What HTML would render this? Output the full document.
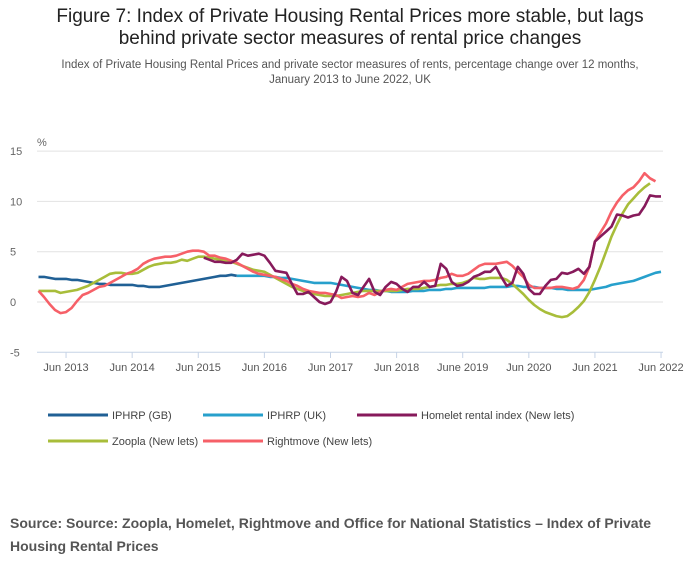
<!DOCTYPE html>
<html><head><meta charset="utf-8"><style>
body{margin:0;width:700px;height:574px;background:#fff;font-family:"Liberation Sans",sans-serif;overflow:hidden;position:relative}
.t{position:absolute;left:0;width:700px;text-align:center;color:#222}
</style></head><body>
<div class="t" style="top:6px;font-size:19px;line-height:22px">Figure 7: Index of Private Housing Rental Prices more stable, but lags<br>behind private sector measures of rental price changes</div>
<div class="t" style="top:58px;font-size:11.5px;line-height:15px;color:#555">Index of Private Housing Rental Prices and private sector measures of rents, percentage change over 12 months,<br>January 2013 to June 2022, UK</div>
<svg id="c" width="700" height="480" style="position:absolute;left:0;top:0"></svg>
<div style="position:absolute;left:10px;top:512px;font-size:14px;line-height:23px;font-weight:bold;color:#555">Source: Source: Zoopla, Homelet, Rightmove and Office for National Statistics – Index of Private<br>Housing Rental Prices</div>
<script>
const yTicks=[15,10,5,0,-5];
const xLabels=["Jun 2013","Jun 2014","Jun 2015","Jun 2016","Jun 2017","Jun 2018","June 2019","Jun 2020","Jun 2021","Jun 2022"];
const xLabelMonths=[5,17,29,41,53,65,77,89,101,113];
const gbStart=0;
const gbValues=[2.5,2.5,2.4,2.3,2.3,2.3,2.2,2.2,2.1,2.0,1.9,1.8,1.8,1.7,1.7,1.7,1.7,1.7,1.6,1.6,1.5,1.5,1.5,1.6,1.7,1.8,1.9,2.0,2.1,2.2,2.3,2.4,2.5,2.6,2.6,2.7,2.6];
const ukStart=36;
const ukValues=[2.6,2.6,2.6,2.6,2.6,2.6,2.5,2.5,2.4,2.4,2.3,2.2,2.1,2.0,1.9,1.9,1.9,1.9,1.8,1.7,1.6,1.5,1.4,1.3,1.2,1.2,1.1,1.1,1.0,1.0,1.0,1.0,1.1,1.1,1.1,1.2,1.2,1.2,1.3,1.3,1.4,1.4,1.4,1.4,1.4,1.4,1.5,1.5,1.5,1.5,1.6,1.6,1.5,1.5,1.5,1.4,1.4,1.4,1.3,1.3,1.2,1.2,1.2,1.2,1.2,1.3,1.4,1.5,1.7,1.8,1.9,2.0,2.1,2.3,2.5,2.7,2.9,3.0];
const homeletStart=30;
const homeletValues=[4.4,4.2,4.0,4.0,3.9,3.9,4.2,4.8,4.6,4.7,4.8,4.6,3.9,3.1,3.0,2.9,1.8,0.8,0.8,1.0,0.5,0.0,-0.2,0.0,1.0,2.5,2.1,0.9,0.7,1.5,2.3,1.0,0.7,1.5,2.0,1.8,1.3,1.0,1.5,1.5,2.0,1.5,1.6,3.8,3.3,2.0,1.6,1.7,2.0,2.5,2.7,3.0,3.0,3.5,2.5,1.6,1.9,3.5,2.8,1.3,0.8,0.8,1.6,2.2,2.3,2.9,2.8,3.0,3.3,2.8,3.5,6.0,6.5,7.0,7.5,8.7,8.6,8.4,8.6,8.7,9.5,10.6,10.5,10.5];
const zooplaStart=0;
const zooplaValues=[1.1,1.1,1.1,1.1,0.9,1.0,1.1,1.2,1.4,1.6,1.9,2.2,2.5,2.8,2.9,2.9,2.8,2.8,2.9,3.2,3.5,3.7,3.8,3.9,3.9,4.0,4.2,4.1,4.3,4.5,4.5,4.4,4.3,4.2,4.1,4.0,3.8,3.6,3.4,3.2,3.1,3.0,2.7,2.4,2.1,1.8,1.5,1.3,1.1,0.9,0.8,0.7,0.6,0.6,0.6,0.7,0.8,0.9,1.0,1.1,1.1,1.1,1.1,1.1,1.1,1.1,1.2,1.3,1.3,1.3,1.4,1.5,1.6,1.7,1.7,1.8,1.8,1.9,2.1,2.4,2.3,2.3,2.4,2.4,2.4,2.2,1.8,1.3,0.8,0.2,-0.3,-0.7,-1.0,-1.2,-1.4,-1.5,-1.4,-1.0,-0.5,0.1,1.0,2.2,3.5,5.0,6.5,7.7,8.8,9.7,10.3,10.9,11.4,11.8];
const rightmoveStart=0;
const rightmoveValues=[1.1,0.5,-0.2,-0.8,-1.1,-1.0,-0.6,0.1,0.7,0.9,1.2,1.5,1.6,1.9,2.2,2.5,2.8,3.0,3.3,3.8,4.1,4.3,4.4,4.5,4.5,4.6,4.8,5.0,5.1,5.1,5.0,4.6,4.6,4.4,4.3,4.1,3.9,3.6,3.3,3.0,2.8,2.7,2.6,2.5,2.3,2.1,1.8,1.6,1.3,1.1,1.0,0.9,0.9,0.8,0.7,0.4,0.5,0.6,0.5,0.6,0.9,0.7,1.0,1.2,1.3,1.2,1.5,1.8,1.9,2.0,2.1,2.1,2.2,2.4,2.5,2.8,2.6,2.6,2.8,3.2,3.6,3.8,3.8,3.8,3.9,4.0,3.6,3.0,2.5,1.7,1.4,1.4,1.4,1.4,1.5,1.5,1.4,1.3,1.5,2.2,3.5,6.0,6.9,7.8,9.0,9.9,10.6,11.1,11.4,12.0,12.8,12.3,12.0];
const seriesNames=["IPHRP (GB)","IPHRP (UK)","Homelet rental index (New lets)","Zoopla (New lets)","Rightmove (New lets)"];
const colors=["#206095","#27a0cc","#871a5b","#a8bd3a","#f66068"];

const X0=38.5,MW=595/108,Y0=302,UW=10.06;
const xS=m=>X0+m*MW, yS=v=>Y0-v*UW;
const svg=document.getElementById('c'),NS="http://www.w3.org/2000/svg";
function mk(t,a){const e=document.createElementNS(NS,t);for(const k in a)e.setAttribute(k,a[k]);svg.appendChild(e);return e;}
yTicks.forEach(v=>{
 const g=mk('line',{x1:37,x2:663,y1:yS(v),y2:yS(v),stroke:v===-5?'#c6d3e6':'#e2e2e2','stroke-width':1});
 
 
 const t=mk('text',{x:10,y:yS(v)+4,'font-size':11,fill:'#666'});t.textContent=v;
 
 
});
const pc=mk('text',{x:37,y:146,'font-size':11,fill:'#666'});pc.textContent='%';


xLabels.forEach((l,i)=>{
 const x=xS(xLabelMonths[i]);
 const tk=mk('line',{x1:x,x2:x,y1:352,y2:358,stroke:'#c6d3e6'});
 
 
 const t=mk('text',{x:x,y:371,'font-size':11,fill:'#555','text-anchor':'middle'});t.textContent=l;
 
 
});
function line(vals,start,col,name){
 const d=vals.map((v,i)=>(i?'L':'M')+xS(start+i).toFixed(1)+','+yS(v).toFixed(1)).join('');
 const p=mk('path',{d:d,fill:'none',stroke:col,'stroke-width':2.6,'stroke-linejoin':'round'});
 
 
}
line(gbValues,gbStart,colors[0],'series-iphrp-gb');
line(ukValues,ukStart,colors[1],'series-iphrp-uk');
line(zooplaValues,zooplaStart,colors[3],'series-zoopla');
line(rightmoveValues,rightmoveStart,colors[4],'series-rightmove');
line(homeletValues,homeletStart,colors[2],'series-homelet');
const lp=[[48,415],[203,415],[357,415],[48,441],[203,441]];
seriesNames.forEach((n,i)=>{
 const [x,y]=lp[i];
 const l=mk('line',{x1:x,x2:x+60,y1:y,y2:y,stroke:colors[i],'stroke-width':3});
 
 
 const t=mk('text',{x:x+64,y:y+4,'font-size':11,fill:'#444'});t.textContent=n;
 
 
});
</script>
</body></html>
